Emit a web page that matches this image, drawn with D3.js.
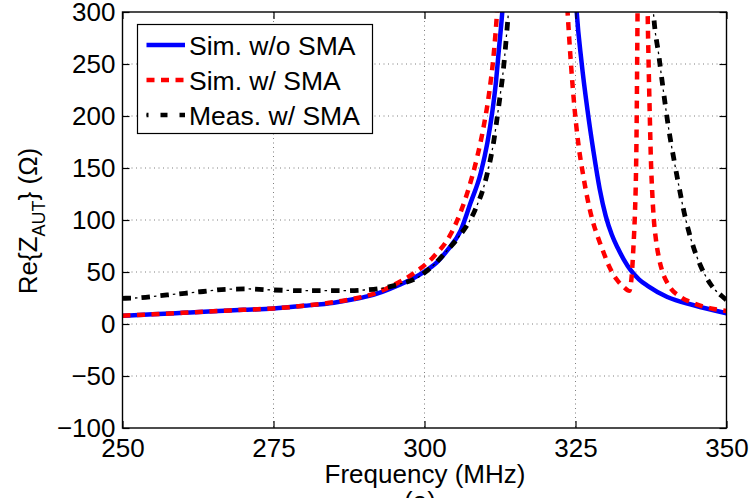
<!DOCTYPE html>
<html>
<head>
<meta charset="utf-8">
<script src="https://cdn.jsdelivr.net/npm/d3@7"></script>
<style>
  html, body { margin: 0; padding: 0; background: #fff; }
  svg { display: block; font-family: "Liberation Sans", Arial, Helvetica, sans-serif; }
</style>
</head>
<body>
<svg id="chart" width="752" height="498"></svg>
<script>
// ---- Data ----
const seriesNames = ["Sim. w/o SMA", "Sim. w/ SMA", "Meas. w/ SMA"];
const xTicks = [250, 275, 300, 325, 350];
const yTicks = [-100, -50, 0, 50, 100, 150, 200, 250, 300];

const simNoSmaFreq = [250, 255, 260, 265, 270, 275, 280, 285, 288, 290.5, 293, 296, 298, 300, 302, 303.8, 306, 307.6, 309.3, 310.4, 311.2, 311.8, 312.3, 312.9, 313.3, 318, 324.8, 325.2, 326, 327, 328, 329, 330, 331, 332, 333, 334.1, 335.5, 337, 340.2, 344.6, 350];
const simNoSmaVal  = [8, 9.3, 10.8, 12.3, 13.6, 15, 17.5, 20.5, 23.5, 26.5, 31, 38, 43.5, 50.3, 59, 71, 90, 116, 145, 174, 203, 231, 263, 302, 340, 900, 340, 300, 252, 205, 165, 130, 104, 86, 73, 62, 52, 43, 36.5, 26, 18, 10.3];

const simSmaFreq = [250, 255, 260, 265, 270, 275, 280, 285, 288, 291, 294.9, 298.2, 301.5, 304.3, 306, 307.3, 308.7, 309.8, 310.7, 311.5, 312, 312.4, 317.5, 323.3, 323.7, 324.2, 324.8, 325.5, 326.3, 327, 327.8, 328.8, 329.6, 330.6, 331.8, 333, 333.9, 334.3, 334.6, 334.85, 335.0, 335.12, 335.22, 335.3, 335.5, 336.2, 336.75, 336.95, 337.1, 337.3, 337.5, 337.7, 337.95, 338.3, 338.8, 339.3, 340.4, 342.4, 344.6, 347.4, 350];
const simSmaVal  = [8, 9.3, 10.8, 12.3, 13.6, 15, 17.5, 21, 24, 28, 37.5, 48.7, 64.7, 86, 108, 130, 160, 190, 222, 262, 299, 340, 900, 340, 299, 254, 210, 172, 142, 120, 100, 82, 69.5, 55, 43, 35.5, 32, 46, 75, 108, 140, 190, 260, 320, 420, 900, 420, 300, 252, 200, 155, 127, 102, 82, 64, 52, 37.5, 26, 19.9, 15, 12.5];

const measSmaFreq = [250, 252, 257.4, 262.9, 267.3, 270.6, 275, 280.6, 286.7, 290, 293, 296, 299.1, 301.5, 303.8, 305.7, 308.4, 310.1, 311.5, 312.3, 313.1, 313.7, 313.9, 314.3, 326, 337.5, 337.9, 338.8, 339.6, 340.5, 341.4, 342.2, 343, 343.8, 344.7, 345.7, 347.4, 349.6, 350];
const measSmaVal  = [24.7, 25, 27.9, 31, 33.4, 33.7, 32.7, 32, 32, 32.7, 34.5, 38.5, 45.5, 56.7, 71, 84, 110, 138, 177, 210, 247, 286, 300, 340, 900, 340, 300, 258, 222, 185, 155, 130, 107, 88, 71, 56, 38, 25, 23];

// ---- Layout ----
const W = 752, H = 498;
const L = 122.5, R = 726.5, T = 12, B = 428;
const svg = d3.select("#chart");

const x = d3.scaleLinear().domain([250, 350]).range([L, R]);
const y = d3.scaleLinear().domain([-100, 300]).range([B, T]);

// clip
svg.append("defs").append("clipPath").attr("id", "plotclip")
  .append("rect").attr("x", L).attr("y", T).attr("width", R - L).attr("height", B - T);

// background
svg.append("rect").attr("x", 0).attr("y", 0).attr("width", W).attr("height", H).attr("fill", "#fff");

// grid
const grid = svg.append("g");
grid.selectAll("line.gx").data(xTicks.slice(1, -1)).enter().append("line")
  .attr("x1", d => x(d)).attr("x2", d => x(d)).attr("y1", T).attr("y2", B)
  .attr("stroke", "#333").attr("stroke-width", 0.9).attr("stroke-dasharray", "1 3.5").attr("opacity", 0.7);
grid.selectAll("line.gy").data(yTicks.slice(1, -1)).enter().append("line")
  .attr("y1", d => y(d)).attr("y2", d => y(d)).attr("x1", L).attr("x2", R)
  .attr("stroke", "#333").attr("stroke-width", 0.9).attr("stroke-dasharray", "1 3.5").attr("opacity", 0.7);

// series
function pts(fs, vs) { return fs.map((f, i) => [f, vs[i]]); }
const line = d3.line().x(d => x(d[0])).y(d => y(d[1])).curve(d3.curveMonotoneX);

const plot = svg.append("g").attr("clip-path", "url(#plotclip)");
plot.append("path").attr("d", line(pts(simNoSmaFreq, simNoSmaVal)))
  .attr("fill", "none").attr("stroke", "#0000ff").attr("stroke-width", 4.5);
plot.append("path").attr("d", line(pts(simSmaFreq, simSmaVal)))
  .attr("fill", "none").attr("stroke", "#ff0000").attr("stroke-width", 4.5)
  .attr("stroke-dasharray", "8 6.5");
const measD = line(pts(measSmaFreq, measSmaVal));
plot.append("path").attr("d", measD)
  .attr("fill", "none").attr("stroke", "#000").attr("stroke-width", 4.8)
  .attr("stroke-dasharray", "8.5 10.5");
plot.append("path").attr("d", measD)
  .attr("fill", "none").attr("stroke", "#000").attr("stroke-width", 1.3)
  .attr("stroke-dasharray", "2.5 16.5").attr("stroke-dashoffset", -12.5);

// axes (box with inward ticks)
const tickLen = 7;
const ax = svg.append("g");
ax.append("rect").attr("x", L).attr("y", T).attr("width", R - L).attr("height", B - T)
  .attr("fill", "none").attr("stroke", "#000").attr("stroke-width", 1.4);

const xAxisB = d3.axisBottom(x).tickValues(xTicks).tickSize(-tickLen).tickPadding(11).tickFormat(d3.format("d"));
const gxb = svg.append("g").attr("transform", `translate(0,${B})`).call(xAxisB);
const xAxisT = d3.axisTop(x).tickValues(xTicks).tickSize(-tickLen).tickFormat("");
const gxt = svg.append("g").attr("transform", `translate(0,${T})`).call(xAxisT);
const yAxisL = d3.axisLeft(y).tickValues(yTicks).tickSize(-tickLen).tickPadding(7)
  .tickFormat(d => d < 0 ? "\u2212" + Math.abs(d) : String(d));
const gyl = svg.append("g").attr("transform", `translate(${L},0)`).call(yAxisL);
const yAxisR = d3.axisRight(y).tickValues(yTicks).tickSize(-tickLen).tickFormat("");
const gyr = svg.append("g").attr("transform", `translate(${R},0)`).call(yAxisR);

[gxb, gxt, gyl, gyr].forEach(g => {
  g.select(".domain").remove();
  g.selectAll(".tick line").attr("stroke", "#000").attr("stroke-width", 1.2);
  g.selectAll("text").attr("font-size", 26).attr("fill", "#000")
    .attr("font-family", "'Liberation Sans', Arial, sans-serif");
});
gxb.selectAll("text").attr("dy", "0.71em");

// axis labels
svg.append("text").attr("x", 425).attr("y", 483).attr("text-anchor", "middle")
  .attr("font-size", 26).text("Frequency (MHz)");

const yl = svg.append("text").attr("transform", `translate(37,221) rotate(-90)`)
  .attr("text-anchor", "middle").attr("font-size", 26);
yl.append("tspan").text("Re{Z");
yl.append("tspan").attr("font-size", 18).attr("dy", 8).text("AUT");
yl.append("tspan").attr("dy", -8).text("} (\u03A9)");

// caption (cut off at bottom)
svg.append("text").attr("x", 420).attr("y", 510).attr("text-anchor", "middle")
  .attr("font-size", 26).text("(a)");

// legend
const lg = svg.append("g");
lg.append("rect").attr("x", 137.5).attr("y", 24.5).attr("width", 235).attr("height", 109)
  .attr("fill", "#fff").attr("stroke", "#000").attr("stroke-width", 1.2);
const rowsY = [45, 80, 115];
const lx1 = 146.5, lx2 = 185;
lg.append("line").attr("x1", lx1).attr("x2", lx2).attr("y1", rowsY[0]).attr("y2", rowsY[0])
  .attr("stroke", "#0000ff").attr("stroke-width", 4.5);
lg.append("line").attr("x1", lx1).attr("x2", lx2).attr("y1", rowsY[1]).attr("y2", rowsY[1])
  .attr("stroke", "#ff0000").attr("stroke-width", 4.5).attr("stroke-dasharray", "8 6.5");
lg.append("line").attr("x1", lx1).attr("x2", lx2).attr("y1", rowsY[2]).attr("y2", rowsY[2])
  .attr("stroke", "#000").attr("stroke-width", 4.5).attr("stroke-dasharray", "7 12").attr("stroke-dashoffset", -14);
lg.append("line").attr("x1", lx1).attr("x2", lx2).attr("y1", rowsY[2]).attr("y2", rowsY[2])
  .attr("stroke", "#000").attr("stroke-width", 1.3).attr("stroke-dasharray", "2.5 16.5").attr("stroke-dashoffset", -17);
seriesNames.forEach((n, i) => {
  lg.append("text").attr("x", 189).attr("y", rowsY[i]).attr("dy", "0.36em")
    .attr("font-size", 26.5).text(n);
});
</script>
</body>
</html>
